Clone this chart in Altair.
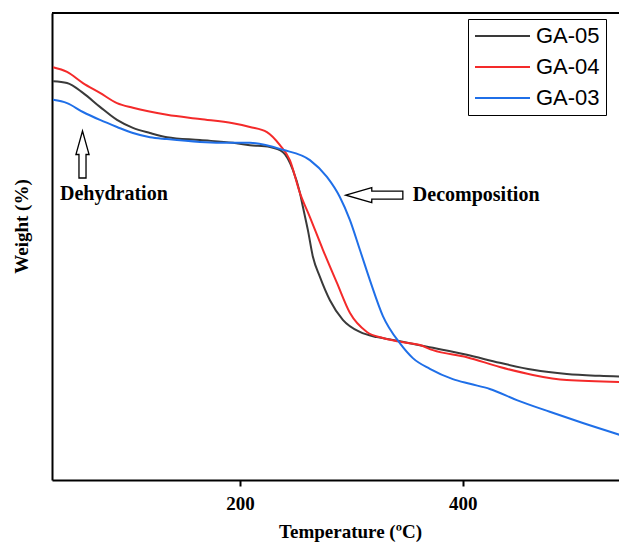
import altair as alt
import pandas as pd

series_names = ["GA-05", "GA-04", "GA-03"]
series_colors = ["#3a3a3a", "#f42a2a", "#1f6fe8"]

ga05_temp = [32, 44.5, 58.8, 74.1, 89.4, 103.7, 119.0, 134.3, 163.9, 193.6, 208.8, 226.8, 238.5,
             247.4, 253.7, 256.4, 260.9, 265.4, 271.7, 280.7, 292.3, 307.6, 322.9, 337.2, 373.2,
             403.7, 433.3, 463.0, 493.5, 523.1, 547.4]
ga05_weight = [85.4, 85.0, 82.9, 79.9, 77.1, 75.4, 74.3, 73.4, 72.8, 72.2, 71.7, 71.3, 70.2,
               66.4, 61.5, 58.5, 53.5, 47.8, 43.5, 38.5, 34.3, 31.7, 30.6, 30.0, 28.3,
               26.8, 25.1, 23.6, 22.7, 22.3, 22.1]

ga04_temp = [32, 44.5, 58.8, 74.1, 89.4, 103.7, 134.3, 163.9, 193.6, 208.8, 224.1, 235.8, 244.7,
             253.7, 262.7, 274.4, 287.0, 298.6, 313.9, 328.3, 343.5, 361.5, 373.2, 403.7, 433.3,
             463.0, 493.5, 541.1]
ga04_weight = [88.4, 87.4, 85.0, 82.9, 80.7, 79.7, 78.2, 77.3, 76.4, 75.6, 74.5, 71.7, 68.5,
               61.5, 56.3, 49.3, 42.2, 35.8, 31.7, 30.4, 29.6, 28.9, 27.8, 26.3, 24.2,
               22.5, 21.4, 21.0]

ga03_temp = [32, 44.5, 58.8, 74.1, 89.4, 103.7, 119.0, 134.3, 163.9, 193.6, 208.8, 238.5, 262.7,
             278.0, 289.6, 298.6, 307.6, 316.6, 328.3, 343.5, 355.2, 370.5, 391.1, 406.4, 424.3,
             448.6, 478.2, 507.9, 547.4]
ga03_weight = [81.4, 80.7, 78.8, 77.1, 75.6, 74.3, 73.4, 73.0, 72.4, 72.2, 72.2, 70.7, 68.5,
               64.9, 60.6, 55.7, 49.3, 42.8, 35.1, 29.3, 26.1, 23.8, 21.6, 20.6, 19.5,
               17.1, 14.6, 12.2, 9.2]

x_ticks = [200, 400]

ann_text = ["Dehydration", "Decomposition"]
ann_temp = [38.2, 355.2]
ann_weight = [61.2, 61.0]

arrow_temp = [58.4, 320.6]
arrow_weight = [69.7, 61.0]

rows = []
for name, ts, ws in [("GA-05", ga05_temp, ga05_weight),
                     ("GA-04", ga04_temp, ga04_weight),
                     ("GA-03", ga03_temp, ga03_weight)]:
    for i, (t, w) in enumerate(zip(ts, ws)):
        rows.append({"series": name, "temp": t, "weight": w, "order": i})
df = pd.DataFrame(rows)

W, H = 567, 467
xscale = alt.Scale(domain=[31, 540.4], nice=False, zero=False)
yscale = alt.Scale(domain=[0, 100], nice=False, zero=False)

serif = "Liberation Serif"

lines = alt.Chart(df).mark_line(strokeWidth=2, interpolate="monotone", clip=True).encode(
    x=alt.X("temp:Q", scale=xscale,
            axis=alt.Axis(title="Temperature (ºC)", values=x_ticks, format="d",
                          grid=False, domainColor="black", domainWidth=2,
                          tickColor="black", tickWidth=2, tickSize=6,
                          labelFont=serif, labelFontSize=19, labelFontWeight="bold",
                          labelColor="black", labelPadding=8,
                          titleFont=serif, titleFontSize=19, titleFontWeight="bold",
                          titleColor="black", titlePadding=9, titleX=298)),
    y=alt.Y("weight:Q", scale=yscale,
            axis=alt.Axis(title="Weight (%)", ticks=False, labels=False, grid=False,
                          domainColor="black", domainWidth=2,
                          titleFont=serif, titleFontSize=19, titleFontWeight="bold",
                          titleColor="black", titlePadding=21, titleY=213)),
    color=alt.Color("series:N",
                    scale=alt.Scale(domain=series_names, range=series_colors),
                    sort=series_names,
                    legend=alt.Legend(title=None, orient="none", legendX=416, legendY=6,
                                      strokeColor="black", fillColor="white", padding=6,
                                      symbolType="stroke", symbolSize=3025, clipHeight=22,
                                      symbolStrokeWidth=2, labelFont="Liberation Sans",
                                      labelFontSize=22, labelColor="black", labelOffset=5,
                                      rowPadding=9)),
    order="order:Q",
)

top_border = alt.Chart(pd.DataFrame({"a": [0]})).mark_rule(color="black", strokeWidth=2).encode(
    x=alt.value(0), x2=alt.value(W), y=alt.value(0)
)

ann_df = pd.DataFrame({"text": ann_text, "temp": ann_temp, "weight": ann_weight})
texts = alt.Chart(ann_df).mark_text(font=serif, fontSize=20, fontWeight="bold",
                                    color="black", align="left", baseline="middle").encode(
    x=alt.X("temp:Q", scale=xscale), y=alt.Y("weight:Q", scale=yscale), text="text:N"
)

up_arrow = "M0,-1 L0.28,0 L0.15,0 L0.15,1 L-0.15,1 L-0.15,0 L-0.28,0 Z"
left_arrow = "M-1,0 L-0.09,-0.26 L-0.09,-0.14 L1,-0.14 L1,0.14 L-0.09,0.14 L-0.09,0.26 Z"

arrow1 = alt.Chart(pd.DataFrame({"temp": [arrow_temp[0]], "weight": [arrow_weight[0]]})).mark_point(
    shape=up_arrow, size=2209, filled=False, stroke="black", strokeWidth=1.3, opacity=1
).encode(x=alt.X("temp:Q", scale=xscale), y=alt.Y("weight:Q", scale=yscale))

arrow2 = alt.Chart(pd.DataFrame({"temp": [arrow_temp[1]], "weight": [arrow_weight[1]]})).mark_point(
    shape=left_arrow, size=3249, filled=False, stroke="black", strokeWidth=1.3, opacity=1
).encode(x=alt.X("temp:Q", scale=xscale), y=alt.Y("weight:Q", scale=yscale))

chart = alt.layer(lines, top_border, texts, arrow1, arrow2).properties(
    width=W, height=H,
    autosize=alt.AutoSizeParams(type="none"),
    padding={"left": 44, "top": 5, "right": 0, "bottom": 62},
    background="white",
).configure_view(stroke=None)

chart.save("out.html", embed_options={"renderer": "svg", "actions": False})
